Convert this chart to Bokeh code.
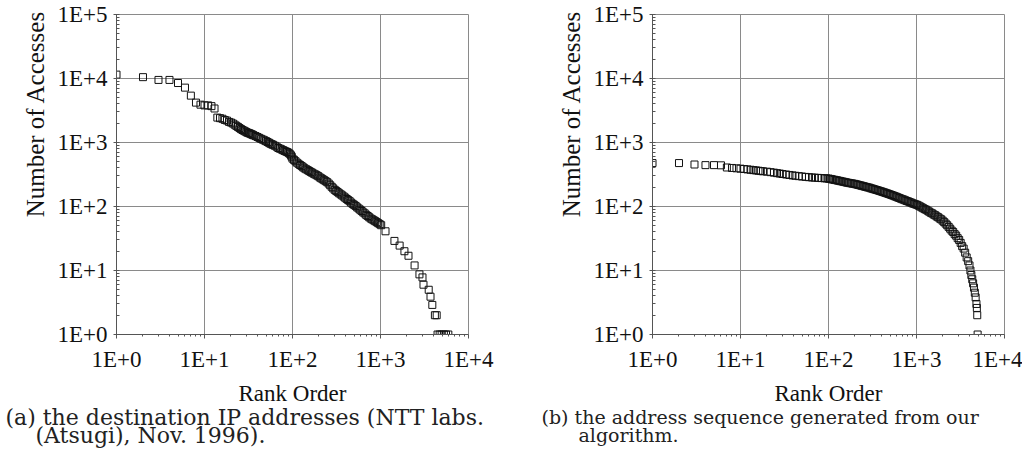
from bokeh.plotting import figure
from bokeh.layouts import row
from bokeh.models import FixedTicker, Title, Range1d
from bokeh.embed import file_html
from bokeh.resources import INLINE

# ---------------- data ----------------
rank_a = [1, 2, 3, 4, 5, 6, 7, 8, 9, 10, 11, 12, 13, 14,
          15, 16, 17, 18, 19, 20, 21, 22, 23, 24, 25, 26, 27, 28, 29, 30, 31, 32, 33, 34,
          35, 36, 38, 40, 42, 44, 46, 48, 50, 52, 54, 56, 58, 60, 63, 66, 69, 72, 75,
          78, 81, 84, 87, 90, 93, 96, 98,
          100, 104, 108, 112, 117, 122, 127, 132, 137, 143, 149, 155, 161, 167, 174,
          181, 188, 196, 204, 212, 220, 229, 238, 248, 258, 268, 279, 290, 302, 314,
          326, 339, 353, 367, 382, 397, 413, 429, 446, 464, 483, 502, 522, 543, 565,
          588, 611, 636, 661, 688, 715, 744, 774, 805, 837, 870, 905, 941, 979, 1018,
          1140, 1440, 1650, 1870, 2080, 2440, 2770, 3000, 3080, 3530, 3700, 3880,
          4150, 4350, 4450, 4700, 4950, 5250, 5550, 5900]
count_a = [11500, 10500, 9500, 9500, 8500, 7200, 5400, 4200, 3900, 3800, 3800, 3700, 3400, 2450,
           2400, 2350, 2250, 2200, 2100, 2050, 1980, 1900, 1820, 1750, 1680, 1620, 1570,
           1530, 1490, 1450, 1420, 1400, 1375, 1350,
           1325, 1300, 1260, 1220, 1180, 1140, 1110, 1080, 1050, 1020, 990, 960, 940, 920,
           890, 860, 820, 800, 780,
           760, 740, 725, 710, 690, 665, 630, 600,
           560, 535, 510, 485, 465, 445, 428, 410, 395, 382, 370, 358, 347, 337, 326,
           317, 308, 298, 285, 276, 267, 258, 249, 240, 228, 215, 203, 192, 182, 175,
           168, 161, 155, 149, 143, 137, 131, 126, 121, 115, 110, 106, 102, 97, 93,
           89, 85, 81, 78, 74, 71, 68, 65, 63, 61, 59, 57, 55, 53, 51,
           41, 29, 24.5, 20, 17, 12, 8.7, 7.8, 6, 5, 3.9, 2.9,
           2, 2, 1, 1, 1, 1, 1, 1]

rank_b = [1, 2, 3, 4, 5, 6, 7, 8, 9, 10,
          11, 12, 13, 14, 15, 16, 17, 18, 20, 22, 24, 26, 28, 30, 33, 36, 39, 42, 46, 50,
          55, 60, 65, 70, 76, 83, 90, 95,
          100, 104, 108, 112, 117, 122, 127, 132, 137, 143, 149, 155, 161, 167, 174,
          181, 188, 196, 204, 212, 220, 229, 238, 248, 258, 268, 279, 290, 302, 314,
          326, 339, 353, 367, 382, 397, 413, 429, 446, 464, 483, 502, 522, 543, 565,
          588, 611, 636, 661, 688, 715, 744, 774, 805, 837, 870, 905, 941, 979, 1018,
          1059, 1101, 1145, 1191, 1239, 1288, 1340, 1393, 1449, 1507, 1567, 1630, 1695,
          1763, 1834, 1907, 1983, 2063, 2145, 2231, 2320, 2413, 2510, 2610, 2715, 2823,
          2936, 3054, 3176, 3303, 3435, 3572, 3715, 3864, 4000, 4100, 4200, 4300, 4400,
          4500, 4600, 4700, 4800, 4850, 4900, 4950]
count_b = [477, 477, 453, 443, 443, 440, 407, 400, 395, 390,
           385, 380, 375, 370, 366, 362, 358, 355, 350, 344, 338, 332, 327, 322, 316, 311,
           306, 302, 298, 294,
           290, 287, 284, 282, 280, 278, 276, 275,
           273, 270, 267, 264, 261, 258, 255, 252, 249, 246, 243, 240, 237, 235, 232,
           230, 228, 226, 223, 220, 217, 214, 211, 208, 205, 202, 199, 197, 193, 190,
           187, 184, 181, 178, 175, 172, 169, 166, 163, 160, 157, 154, 151, 148, 145,
           142, 139, 136, 133, 130, 128, 125, 122, 120, 117, 115, 112, 110, 108, 106,
           103, 100, 97, 94, 91, 89, 86, 83, 80, 78, 75, 73, 70,
           68, 65, 63, 60, 57, 54, 51, 48, 45, 42, 40, 37, 35,
           32, 30, 27, 24, 22, 19, 16, 14, 12, 10, 8.5, 7.3, 6.3,
           5.4, 4.5, 3.8, 3, 2.6, 2, 1]

x_ticks = [1, 10, 100, 1000, 10000]
x_tick_labels = ["1E+0", "1E+1", "1E+2", "1E+3", "1E+4"]
y_ticks = [1, 10, 100, 1000, 10000, 100000]
y_tick_labels = ["1E+0", "1E+1", "1E+2", "1E+3", "1E+4", "1E+5"]

x_title = "Rank Order"
y_title = "Number of Accesses"
captions_a = ["(a) the destination IP addresses (NTT labs.", "(Atsugi), Nov. 1996)."]
captions_b = ["(b) the address sequence generated from our", "algorithm."]

# ---------------- styling ----------------
SERIF = "Liberation Serif"
CAP_FONT = "DejaVu Serif"
GRID = "#8a8a8a"
TXT = "#111111"


def minor_list(lo_exp, hi_exp):
    out = []
    for e in range(lo_exp, hi_exp):
        for m in range(2, 10):
            out.append(m * 10 ** e)
    return out


def make_fig(xs, ys, width, bl, br, captions, cap_offsets, cap_size, cap_standoffs):
    p = figure(width=width, height=454, x_axis_type="log", y_axis_type="log",
               x_range=Range1d(1, 10000), y_range=Range1d(1, 100000),
               output_backend="svg", toolbar_location=None,
               min_border_left=bl, min_border_right=br,
               min_border_top=14, min_border_bottom=120)
    p.background_fill_color = "white"
    p.border_fill_color = "white"
    p.outline_line_color = GRID
    p.outline_line_width = 1

    p.xaxis.ticker = FixedTicker(ticks=x_ticks, minor_ticks=minor_list(0, 4))
    p.yaxis.ticker = FixedTicker(ticks=y_ticks, minor_ticks=minor_list(0, 5))
    p.xaxis.major_label_overrides = {float(t): l for t, l in zip(x_ticks, x_tick_labels)}
    p.yaxis.major_label_overrides = {float(t): l for t, l in zip(y_ticks, y_tick_labels)}

    for ax in (p.xaxis, p.yaxis):
        ax.major_label_text_font = SERIF
        ax.major_label_text_font_size = "23px"
        ax.major_label_text_color = TXT
        ax.axis_label_text_font = SERIF
        ax.axis_label_text_font_size = "23px"
        ax.axis_label_text_font_style = "normal"
        ax.axis_label_text_color = TXT
        ax.axis_line_color = "#555555"
        ax.major_tick_line_color = "#555555"
        ax.minor_tick_line_color = "#555555"

    p.xaxis.axis_label = x_title
    p.xaxis.major_tick_in = 0
    p.xaxis.major_tick_out = 4
    p.xaxis.minor_tick_in = 0
    p.xaxis.minor_tick_out = 2
    p.xaxis.major_label_standoff = 8
    p.xaxis.axis_label_standoff = 6

    p.yaxis.major_tick_in = 3
    p.yaxis.major_tick_out = 3
    p.yaxis.minor_tick_in = 3
    p.yaxis.minor_tick_out = 0
    p.yaxis.major_label_standoff = 6

    ylab = Title(text=y_title, align="right", offset=-4, text_font=SERIF,
                 text_font_size="25px", text_font_style="normal",
                 text_color=TXT, standoff=12)
    p.add_layout(ylab, "left")

    p.xgrid.grid_line_color = GRID
    p.ygrid.grid_line_color = GRID
    p.xgrid.grid_line_width = 1
    p.ygrid.grid_line_width = 1

    p.scatter(xs, ys, marker="square", size=7, fill_color=None,
              line_color="#111111", line_width=1)

    for txt, off, so in zip(captions, cap_offsets, cap_standoffs):
        t = Title(text=txt, align="left", offset=off, text_font=CAP_FONT,
                  text_font_size=cap_size, text_font_style="normal",
                  text_color="#222222", standoff=so)
        p.add_layout(t, "below")
    return p


p1 = make_fig(rank_a, count_a, 538, 116, 70, captions_a, [-111, -81], "22px", [-12, -6])
p2 = make_fig(rank_b, count_b, 484, 114, 18, captions_b, [-111, -74], "19px", [-10, -1])

layout = row(p1, p2)
open("out.html", "w").write(file_html(layout, INLINE))
